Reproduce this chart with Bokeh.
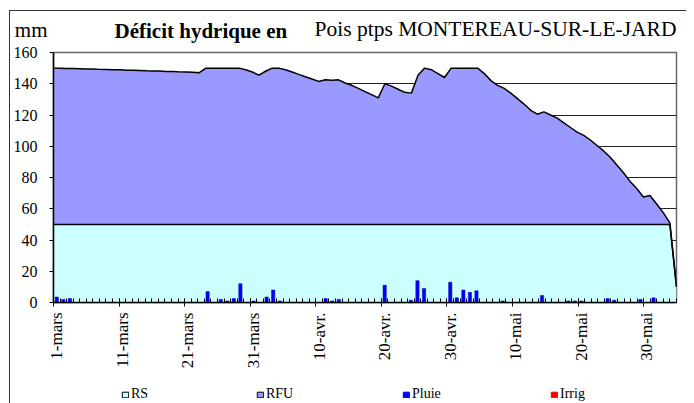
import numpy as np
from bokeh.plotting import figure
from bokeh.layouts import column
from bokeh.models import (Range1d, FixedTicker, LinearAxis, Label, Legend,
                          LegendItem)
from bokeh.embed import file_html
from bokeh.resources import INLINE

# ---------------- data (one value per day, 1 March -> 3 June) ----------------
total_mm = [150, 149.9, 149.8, 149.7, 149.6, 149.5, 149.4, 149.2, 149.1, 149.0,
            148.9, 148.7, 148.6, 148.5, 148.3, 148.2, 148.1, 147.9, 147.8, 147.6,
            147.5, 147.3, 147.1, 150, 150, 150, 150, 150, 150, 149,
            147.5, 145.5, 148, 150, 150, 149, 147.5, 146, 144.5, 143,
            141.5, 142.5, 142.3, 142.5, 140.5, 139, 137, 135, 133, 131,
            140, 138.5, 136.5, 134.5, 134, 145.5, 150, 149, 146.5, 144,
            150, 150, 150, 150, 150, 146.5, 142, 139, 137, 134,
            130.5, 127, 123, 120.5, 122, 120, 118, 115, 112, 109,
            107, 104, 100.5, 97, 93, 88, 83, 77.5, 73, 67.5,
            68.5, 63, 57.5, 51, 10]
rs_mm = [50] * 94 + [10]

rain_day = [0, 1, 2, 23, 25, 26, 27, 28, 30, 32, 33, 34, 41, 42, 43, 50, 54, 55,
            56, 60, 61, 62, 63, 64, 68, 74, 78, 79, 80, 84, 85, 89, 91]
rain_mm = [3.5, 2, 2.5, 7, 2, 1, 2.5, 12, 1, 3.5, 8, 1, 2.5, 1, 2, 11, 1.5, 14,
           9, 13, 3, 8, 6.5, 7.5, 1, 4.5, 1, 1, 1, 2.5, 1.5, 2, 3]
irrig_day = []
irrig_mm = []

tick_day = [0, 10, 20, 30, 40, 50, 60, 70, 80, 90]
tick_labels = ["1-mars", "11-mars", "21-mars", "31-mars", "10-avr.", "20-avr.",
               "30-avr.", "10-mai", "20-mai", "30-mai"]
y_ticks = [0, 20, 40, 60, 80, 100, 120, 140, 160]

unit_label = "mm"
title_bold = "Déficit hydrique en"
title_plain = "Pois ptps MONTEREAU-SUR-LE-JARD"
series_names = ["RS", "RFU", "Pluie", "Irrig"]
series_colors = ["#CCFFFF", "#9999FF", "#0000FF", "#FF0000"]

FONT = "Liberation Serif"
n = len(total_mm)
W = 676

# ---------------- title strip (frame aligned with the chart frame) ----------------
t = figure(width=W, height=34, x_range=Range1d(0, 1), y_range=Range1d(0, 34),
           output_backend="svg", toolbar_location=None, min_border=0,
           x_axis_location=None)
t.outline_line_color = None
t.grid.visible = False
t.yaxis.ticker = FixedTicker(ticks=[16])
t.yaxis.major_label_overrides = {16: unit_label}
t.yaxis.axis_line_color = None
t.yaxis.major_tick_line_color = None
t.yaxis.minor_tick_line_color = None
t.yaxis.major_tick_in = 0
t.yaxis.major_tick_out = 0
t.yaxis.major_label_standoff = 6
t.yaxis.major_label_text_font = FONT
t.yaxis.major_label_text_font_size = "21px"
t.yaxis.major_label_text_color = "black"
t.add_layout(Label(x=61, y=3, x_units="screen", y_units="screen",
                   text=title_bold, text_font=FONT, text_font_size="21px",
                   text_font_style="bold", text_color="black"))
t.add_layout(Label(x=261, y=5, x_units="screen", y_units="screen",
                   text=title_plain, text_font=FONT, text_font_size="21.5px",
                   text_color="black"))

# ---------------- main chart ----------------
p = figure(width=W, height=331, x_range=Range1d(0, n), y_range=Range1d(0, 160),
           output_backend="svg", toolbar_location=None, x_axis_location=None,
           min_border_left=42, min_border_right=10, min_border_top=7,
           min_border_bottom=74)
p.outline_line_color = "#666666"
p.outline_line_width = 1.5
p.background_fill_color = "white"
p.border_fill_color = "white"

p.yaxis.ticker = FixedTicker(ticks=y_ticks)
p.yaxis.major_tick_in = 0
p.yaxis.major_tick_out = 4
p.yaxis.minor_tick_line_color = None
p.yaxis.axis_line_color = "black"
p.yaxis.axis_line_width = 1.5
p.yaxis.major_tick_line_color = "black"
p.yaxis.major_label_text_font = FONT
p.yaxis.major_label_text_font_size = "16px"
p.yaxis.major_label_text_color = "black"
p.yaxis.major_label_standoff = 12
p.ygrid.ticker = FixedTicker(ticks=y_ticks)
p.ygrid.grid_line_color = "#222222"
p.ygrid.grid_line_width = 1
p.xgrid.visible = False

# ticks on category boundaries (no labels drawn) ...
ax_ticks = LinearAxis(ticker=FixedTicker(ticks=tick_day, minor_ticks=list(range(n + 1))),
                      major_label_text_font_size="1px", major_label_text_color=None,
                      major_label_standoff=0,
                      major_tick_in=4, major_tick_out=4, minor_tick_in=4,
                      minor_tick_out=0, axis_line_color="black", axis_line_width=1.5,
                      major_tick_line_color="black", minor_tick_line_color="black")
p.add_layout(ax_ticks, "below")
# ... and date labels on category centres
label_pos = [d + 0.5 for d in tick_day]
ax_labels = LinearAxis(ticker=FixedTicker(ticks=label_pos),
                       major_label_overrides={pos: lab for pos, lab in zip(label_pos, tick_labels)},
                       major_label_orientation=np.pi / 2, axis_line_color=None,
                       major_tick_line_color=None, minor_tick_line_color=None,
                       major_tick_in=0, major_tick_out=0,
                       major_label_standoff=6, major_label_text_font=FONT,
                       major_label_text_font_size="17px", major_label_text_color="black")
p.add_layout(ax_labels, "below")

xa = [i * n / (n - 1) for i in range(n)]
p.varea(x=xa, y1=[0] * n, y2=rs_mm, fill_color=series_colors[0])
p.varea(x=xa, y1=rs_mm, y2=total_mm, fill_color=series_colors[1])
p.line(xa, rs_mm, line_color="black", line_width=1.5)
p.line(xa, total_mm, line_color="black", line_width=1.5)
p.vbar(x=[d + 0.5 for d in rain_day], top=rain_mm, width=0.5,
       fill_color=series_colors[2], line_color="#0000AA", line_width=0.5)
p.vbar(x=[d + 0.5 for d in irrig_day], top=irrig_mm, width=0.5,
       fill_color=series_colors[3], line_color=series_colors[3])

# ---------------- legend strip ----------------
lgf = figure(width=W, height=27, x_range=Range1d(0, 1), y_range=Range1d(0, 1),
             output_backend="svg", toolbar_location=None, min_border=0,
             x_axis_location=None, y_axis_location=None)
lgf.outline_line_color = None
lgf.grid.visible = False
lgf.axis.visible = False
legend_x = [68, 203, 349, 497]
edge = ["black", "black", series_colors[2], series_colors[3]]
for name, col, ec, lx in zip(series_names, series_colors, edge, legend_x):
    # legend swatch proxy: one sample kept below the strip's visible range
    proxy = lgf.vbar(x=[0.5], top=[-2], bottom=[-3], width=0.01,
                     fill_color=col, line_color=ec)
    lg = Legend(items=[LegendItem(label=name, renderers=[proxy])], location=(lx, 1),
                orientation="horizontal", padding=0, margin=0, border_line_color=None,
                background_fill_alpha=0, glyph_width=8, glyph_height=7,
                label_standoff=2, label_height=7, label_text_font=FONT,
                label_text_font_size="14px", label_text_color="black")
    lgf.add_layout(lg)

page = column(t, p, lgf, spacing=0)
page.styles = {"margin-left": "9px", "margin-top": "10px",
               "border-left": "1px solid #333", "border-top": "1px solid #333"}

open("out.html", "w").write(file_html(page, INLINE))
